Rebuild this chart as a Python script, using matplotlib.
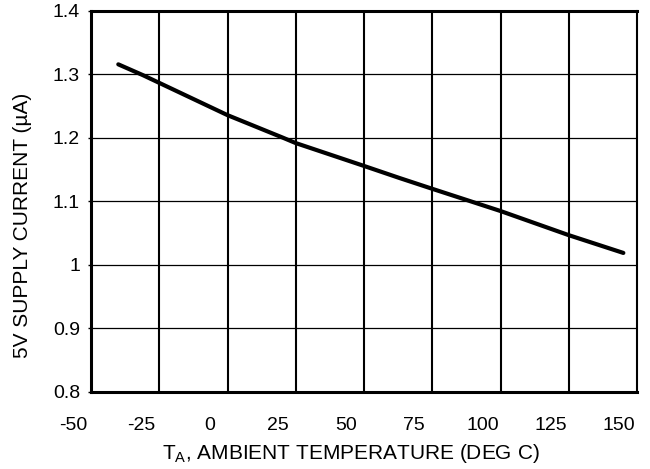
import matplotlib
matplotlib.use("Agg")
import matplotlib.pyplot as plt
import matplotlib.transforms as mtransforms
import numpy as np

# supply current vs ambient temperature
temp_c = [-40, -31, 0, 20, 25, 50, 63, 75, 100, 125, 145]
supply_ua = [1.316, 1.299, 1.236, 1.201, 1.192, 1.156, 1.137, 1.120, 1.085, 1.047, 1.019]

x_ticks = [-50, -25, 0, 25, 50, 75, 100, 125, 150]
y_ticks = [0.8, 0.9, 1.0, 1.1, 1.2, 1.3, 1.4]
y_tick_labels = ['0.8', '0.9', '1', '1.1', '1.2', '1.3', '1.4']

plt.rcParams['font.family'] = ['Liberation Sans', 'DejaVu Sans']
plt.rcParams['mathtext.fontset'] = 'custom'
plt.rcParams['mathtext.rm'] = 'Liberation Sans'

fig = plt.figure(figsize=(6.5, 4.69), dpi=100)
ax = fig.add_axes([91/650, 1 - 392/469, 546/650, 381/469])

ax.plot(temp_c, supply_ua, color='black', linewidth=3, solid_capstyle='round',
        solid_joinstyle='round', zorder=3)

ax.set_xlim(-50, 150)
ax.set_ylim(0.8, 1.4)
ax.set_xticks(x_ticks)
ax.set_xticklabels([str(t) for t in x_ticks], fontsize=14)
ax.set_yticks(y_ticks)
ax.set_yticklabels(y_tick_labels, fontsize=14)

# grid: vertical lines heavier than horizontal ones
for t in x_ticks[1:-1]:
    ax.axvline(t, color='black', linewidth=1.5, zorder=1)
for v in y_ticks[1:-1]:
    ax.axhline(v, color='black', linewidth=0.9, zorder=1)

for side in ['left', 'top', 'bottom']:
    ax.spines[side].set_linewidth(2.2)
ax.spines['right'].set_linewidth(1.5)

ax.tick_params(axis='x', length=0, pad=18)
ax.tick_params(axis='y', length=2, width=1, pad=6)

# x tick labels sit a bit left of their gridlines in the original
shift = mtransforms.ScaledTranslation(-18/100, 0, fig.dpi_scale_trans)
for lbl in ax.get_xticklabels():
    lbl.set_transform(lbl.get_transform() + shift)

ax.set_xlabel(r'T$_\mathregular{A}$, AMBIENT TEMPERATURE (DEG C)', fontsize=15)
ax.xaxis.set_label_coords(0.476, -0.131)
ax.set_ylabel('5V SUPPLY CURRENT (\u00b5A)', fontsize=15)
ax.yaxis.set_label_coords(-0.108, 0.438)

fig.savefig('out.png', dpi=100)
